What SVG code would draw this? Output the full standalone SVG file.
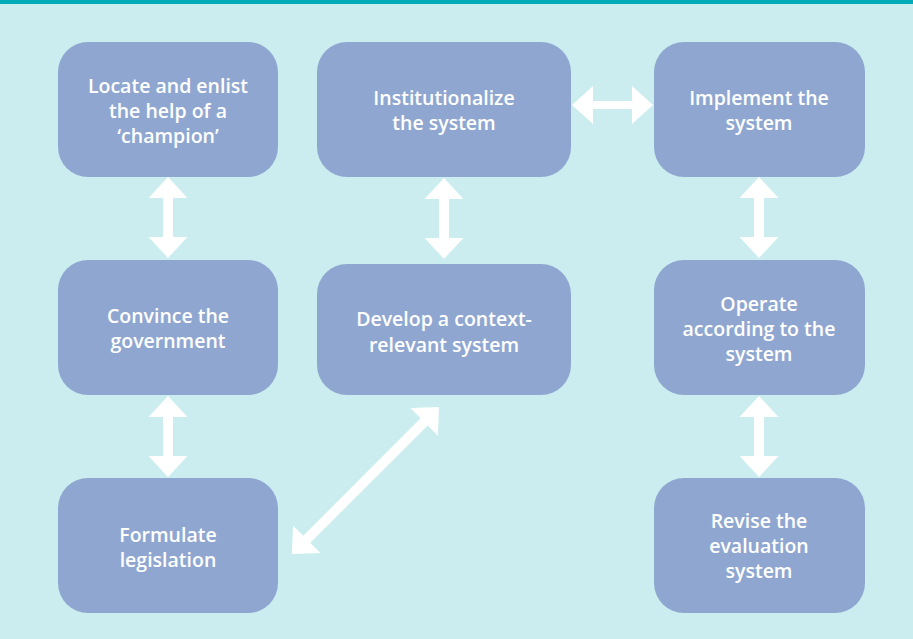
<svg xmlns="http://www.w3.org/2000/svg" width="913" height="639" viewBox="0 0 913 639">
<defs>
<style>
.bg{fill:#cbedef}
.bar{fill:#00aab6}
.box{fill:#8fa7d0}
.lbl{fill:#ffffff;font-family:"Open Sans","Noto Sans","Liberation Sans",sans-serif;font-weight:600;font-size:19.5px;text-anchor:middle}
.arr{fill:#ffffff}
</style>
<path id="varrow" d="M0,0 L19.5,21 L5,21 L5,60 L19.5,60 L0,81 L-19.5,60 L-5,60 L-5,21 L-19.5,21 Z"/>
</defs>
<rect class="bg" x="0" y="0" width="913" height="639"/>
<rect class="bar" x="0" y="0" width="913" height="4"/>

<g id="connectors" class="arr">
<use href="#varrow" x="168" y="177"/>
<use href="#varrow" x="168" y="396"/>
<use href="#varrow" x="444" y="178"/>
<use href="#varrow" x="759" y="177"/>
<use href="#varrow" x="759" y="396"/>
<path d="M572,105 L593,86 L593,101 L632,101 L632,86 L653,105 L632,124 L632,109 L593,109 L593,124 Z"/>
<path transform="translate(439,407) rotate(45)" d="M0,0 L19.5,21 L5,21 L5,187 L19.5,187 L0,208 L-19.5,187 L-5,187 L-5,21 L-19.5,21 Z"/>
</g>

<g id="n1"><rect class="box" x="58" y="42" width="220" height="135" rx="30"/>
<text class="lbl"><tspan x="168" y="93">Locate and enlist</tspan><tspan x="168" y="118">the help of a</tspan><tspan x="168" y="143">‘champion’</tspan></text></g>
<g id="n2"><rect class="box" x="317" y="42" width="254" height="135" rx="30"/>
<text class="lbl"><tspan x="444" y="105">Institutionalize</tspan><tspan x="444" y="130">the system</tspan></text></g>
<g id="n3"><rect class="box" x="654" y="42" width="211" height="135" rx="30"/>
<text class="lbl"><tspan x="759" y="105">Implement the</tspan><tspan x="759" y="130">system</tspan></text></g>
<g id="n4"><rect class="box" x="58" y="260" width="220" height="135" rx="30"/>
<text class="lbl"><tspan x="168" y="323">Convince the</tspan><tspan x="168" y="348">government</tspan></text></g>
<g id="n5"><rect class="box" x="317" y="264" width="254" height="131" rx="30"/>
<text class="lbl"><tspan x="444" y="326">Develop a context-</tspan><tspan x="444" y="352">relevant system</tspan></text></g>
<g id="n6"><rect class="box" x="654" y="260" width="211" height="135" rx="30"/>
<text class="lbl"><tspan x="759" y="311">Operate</tspan><tspan x="759" y="336">according to the</tspan><tspan x="759" y="361">system</tspan></text></g>
<g id="n7"><rect class="box" x="58" y="478" width="220" height="135" rx="30"/>
<text class="lbl"><tspan x="168" y="542">Formulate</tspan><tspan x="168" y="567">legislation</tspan></text></g>
<g id="n8"><rect class="box" x="654" y="478" width="211" height="135" rx="30"/>
<text class="lbl"><tspan x="759" y="528">Revise the</tspan><tspan x="759" y="553">evaluation</tspan><tspan x="759" y="578">system</tspan></text></g>
</svg>
